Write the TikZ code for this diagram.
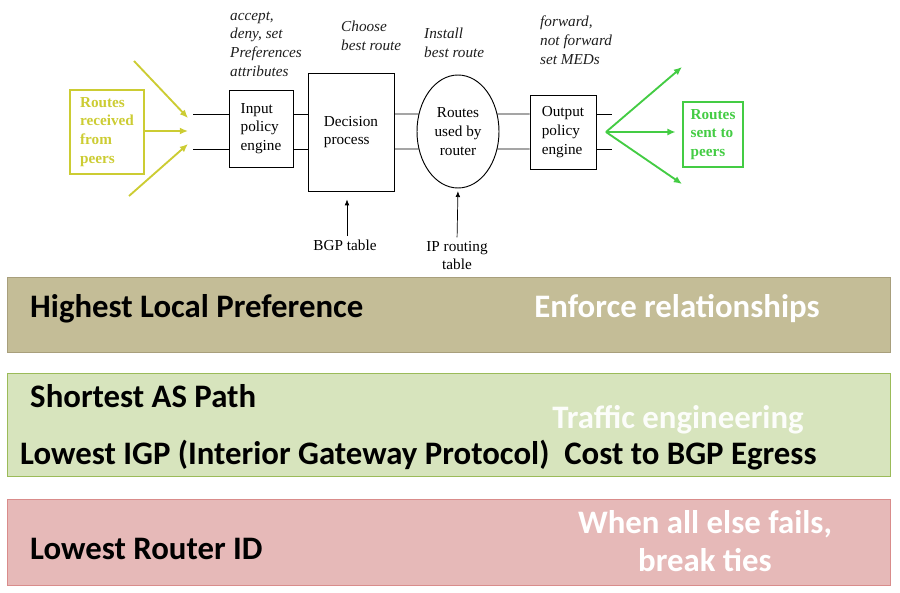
\documentclass[tikz,border=0pt]{standalone}
\usepackage{fontspec}
\setmainfont{Liberation Serif}
\newfontfamily\bandfont{Carlito}
\usetikzlibrary{arrows.meta, positioning, shapes.geometric}
\usepackage{xcolor}
\definecolor{recvyellow}{HTML}{CCCC33}
\definecolor{sentgreen}{HTML}{44CC44}
\definecolor{tanfill}{HTML}{C4BD97}
\definecolor{tanedge}{HTML}{A89F7C}
\definecolor{greenfill}{HTML}{D7E4BD}
\definecolor{greenedge}{HTML}{9BBB59}
\definecolor{pinkfill}{HTML}{E6B9B8}
\definecolor{pinkedge}{HTML}{D98C8B}
\definecolor{notegray}{HTML}{1E1E1E}

\begin{document}
\begin{tikzpicture}[
    x=0.03cm, y=-0.03cm,
    blk/.style={rectangle, draw, thick, inner sep=0pt, align=left,
                font=\fontsize{13}{16}\selectfont},
    note/.style={inner sep=0pt, align=left, text=notegray,
                 font=\fontsize{13}{16}\selectfont\itshape},
    lbl/.style={inner sep=0pt, align=center,
                font=\fontsize{13}{16}\selectfont},
    wire/.style={semithick},
    tarr/.style={-{Latex[length=5pt, width=4pt]}, semithick},
    yarr/.style={-{Latex[length=7pt, width=6pt]}, line width=1.6pt, color=recvyellow},
    garr/.style={-{Latex[length=7pt, width=6pt]}, line width=1.6pt, color=sentgreen},
    band/.style={rectangle, anchor=north west, line width=1pt,
                 minimum width=26.49cm},
    rule/.style={inner sep=0pt, anchor=west, font=\bandfont\bfseries\fontsize{28}{32}\selectfont},
    why/.style={inner sep=0pt, align=center, text=white,
                font=\bandfont\bfseries\fontsize{28}{32}\selectfont}
  ]
    \useasboundingbox (0,0) rectangle (900,593);

    % route pipeline
    \node[blk, draw=recvyellow, line width=1.2pt, text=recvyellow,
          font=\fontsize{13}{16}\selectfont\bfseries,
          minimum width=2.22cm, minimum height=2.52cm] (recv) at (107,132)
          {Routes\\received\\from\\peers};
    \node[blk, minimum width=1.92cm, minimum height=2.31cm] (inp) at (261,128.5)
          {Input\\policy\\engine};
    \node[blk, minimum width=2.58cm, minimum height=3.54cm] (dec) at (351,132)
          {Decision\\process};
    \node[blk, ellipse, align=center, minimum width=2.46cm, minimum height=3.39cm] (ell) at (458,131.5)
          {Routes\\used by\\router};
    \node[blk, minimum width=1.98cm, minimum height=2.22cm] (out) at (563,132)
          {Output\\policy\\engine};
    \node[blk, draw=sentgreen, line width=1.2pt, text=sentgreen,
          font=\fontsize{13}{16}\selectfont\bfseries,
          minimum width=1.8cm, minimum height=1.95cm] (sent) at (713,134.5)
          {Routes\\sent to\\peers};

    \node[note, anchor=west] (acc) at (230,44) {accept,\\deny, set\\Preferences\\attributes};
    \node[note, anchor=west] (cho) at (341,35.5) {Choose\\best route};
    \node[note, anchor=west] (ins) at (424,42.5) {Install\\best route};
    \node[note, anchor=west] (fwd) at (540,40) {forward,\\not forward\\set MEDs};

    \node[lbl] (bgp) at (345,245) {BGP table};
    \node[lbl] (ipt) at (457,255.5) {IP routing\\table};

    \coordinate (hi) at (0,114);
    \coordinate (lo) at (0,149);
    \coordinate (lin) at (193,131);
    \coordinate (lout) at (612,131);
    \coordinate (yin) at (188,131);
    \coordinate (ya) at (134,61);
    \coordinate (yb) at (129,196);
    \coordinate (gfan) at (606,132);
    \coordinate (ga) at (682,67);
    \coordinate (gb) at (682,184);

    \draw[wire] (lin |- hi) -- (inp.west |- hi);
    \draw[wire] (lin |- lo) -- (inp.west |- lo);
    \draw[wire] (inp.east |- hi) -- (dec.west |- hi);
    \draw[wire] (inp.east |- lo) -- (dec.west |- lo);
    \draw[wire] (dec.east |- hi) -- (ell.156);
    \draw[wire] (dec.east |- lo) -- (ell.204);
    \draw[wire] (ell.24) -- (out.west |- hi);
    \draw[wire] (ell.-24) -- (out.west |- lo);
    \draw[wire] (out.east |- hi) -- (lout |- hi);
    \draw[wire] (out.east |- lo) -- (lout |- lo);

    \draw[yarr] (ya) -- (yin |- 0,118);
    \draw[yarr] (recv.east |- yin) -- (yin);
    \draw[yarr] (yb) -- (yin |- 0,144);

    \draw[garr] (gfan) -- (ga);
    \draw[garr, shorten >=0.2cm] (gfan) -- (gfan -| sent.west);
    \draw[garr] (gfan) -- (gb);

    \draw[tarr, shorten <=0.1cm, shorten >=0.24cm] (bgp.north -| 347,0) -- (dec.south -| 347,0);
    \draw[tarr, shorten <=0.1cm, shorten >=0.08cm] (ipt.north) -- (ell.south);

    % selection rules
    \node[band, fill=tanfill, draw=tanedge, minimum height=2.25cm] (pref) at (7,277) {};
    \node[band, fill=greenfill, draw=greenedge, minimum height=3.09cm] (path) at (7,373) {};
    \node[band, fill=pinkfill, draw=pinkedge, minimum height=2.58cm] (tie) at (7,499) {};

    \node[rule] (hlp) at (30,309) {Highest Local Preference};
    \node[why] (enf) at (677,309) {Enforce relationships};
    \node[rule] (sap) at (30,396) {Shortest AS Path};
    \node[why, text=white!92!greenfill] (trf) at (678,420) {Traffic engineering};
    \node[rule] (igp) at (20,455) {Lowest IGP (Interior Gateway Protocol)\ \ Cost to BGP Egress};
    \node[rule] (rid) at (30,549) {Lowest Router ID};
    \node[why] (brk) at (705,541) {When all else fails,\\break ties};
\end{tikzpicture}
\end{document}
